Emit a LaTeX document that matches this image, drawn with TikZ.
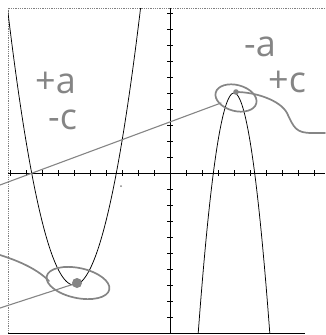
\documentclass[tikz,border=0pt]{standalone}
\usepackage{fontspec}
\newfontfamily\handfont{Open Sans}
\definecolor{penc}{gray}{0.52}
\begin{document}
\begin{tikzpicture}[x=1pt,y=-1pt]
\tikzset{
  hand/.style={draw=penc, line width=1.7pt, line cap=round, line join=round},
  thinhand/.style={draw=penc, line width=1.1pt, line cap=round},
  note/.style={text=penc, inner sep=0pt, anchor=base west, font=\handfont\fontsize{36}{36}\selectfont},
  curve/.style={draw=black, line width=0.75pt},
  axis/.style={draw=black, line width=0.75pt},
  tickmark/.style={draw=black, line width=0.6pt},
}
\useasboundingbox (0,0) rectangle (325,335);
% frame
\draw[gray, densely dotted, line width=0.8pt] (325,8) -- (8,8) -- (8,333);
\draw[black, line width=0.9pt] (8,333) -- (305,333);
% axes
\draw[axis] (8,173) -- (325,173);
\draw[axis] (170,8) -- (170,333);
\foreach \k in {-10,...,-1,1,2,...,9} \draw[tickmark] (170+16*\k,170) -- (170+16*\k,176);
\foreach \k in {-10,...,-1,1,2,...,10} \draw[tickmark] (167,173+16*\k) -- (173,173+16*\k);
% graphs
\begin{scope}
\clip (8,8) rectangle (325,333);
\draw[curve] plot[domain=-10.3:-1.7, samples=150, smooth] ({170+16*\x},{173-16*((\x+6)*(\x+6)-7)});
\draw[curve] plot[domain=1.7:6.3, samples=150, smooth] ({170+16*\x},{173-16*(5-3*(\x-4)*(\x-4))});
\end{scope}
% annotation points
\coordinate (vL) at (77,283);
\coordinate (vR) at (236,92);
\coordinate (lineA) at (0,185);
\coordinate (lineAend) at (221,103);
\coordinate (lineB) at (0,255);
\coordinate (lineBend) at (49,281);
\coordinate (lineC) at (0,308);
\coordinate (sqEnd) at (325,133);
% vertex marks
\fill[penc] (vL) circle (5);
\fill[penc] (vR) circle (2.8);
% ellipses
\draw[hand] (236,98) ellipse [x radius=21, y radius=13, rotate=-15];
\draw[hand] (78,283) ellipse [x radius=32, y radius=15, rotate=-12];
% connectors
\draw[thinhand] (lineA) -- (lineAend);
\draw[hand] (lineB) .. controls (22,262) and (38,270) .. (lineBend);
\draw[thinhand] (lineC) -- (vL);
\draw[hand] (vR) .. controls (255,92) and (280,100) .. (287,113) .. controls (294,128) and (296,133) .. (312,133) -- (sqEnd);
% speck
\fill[penc] (121,186) circle (1);
% notes
\node[note] (ta) at (35,93) {+a};
\node[note] (mc) at (48,129) {-c};
\node[note] (ma) at (244,56) {-a};
\node[note] (pc) at (268,92) {+c};
\end{tikzpicture}
\end{document}
